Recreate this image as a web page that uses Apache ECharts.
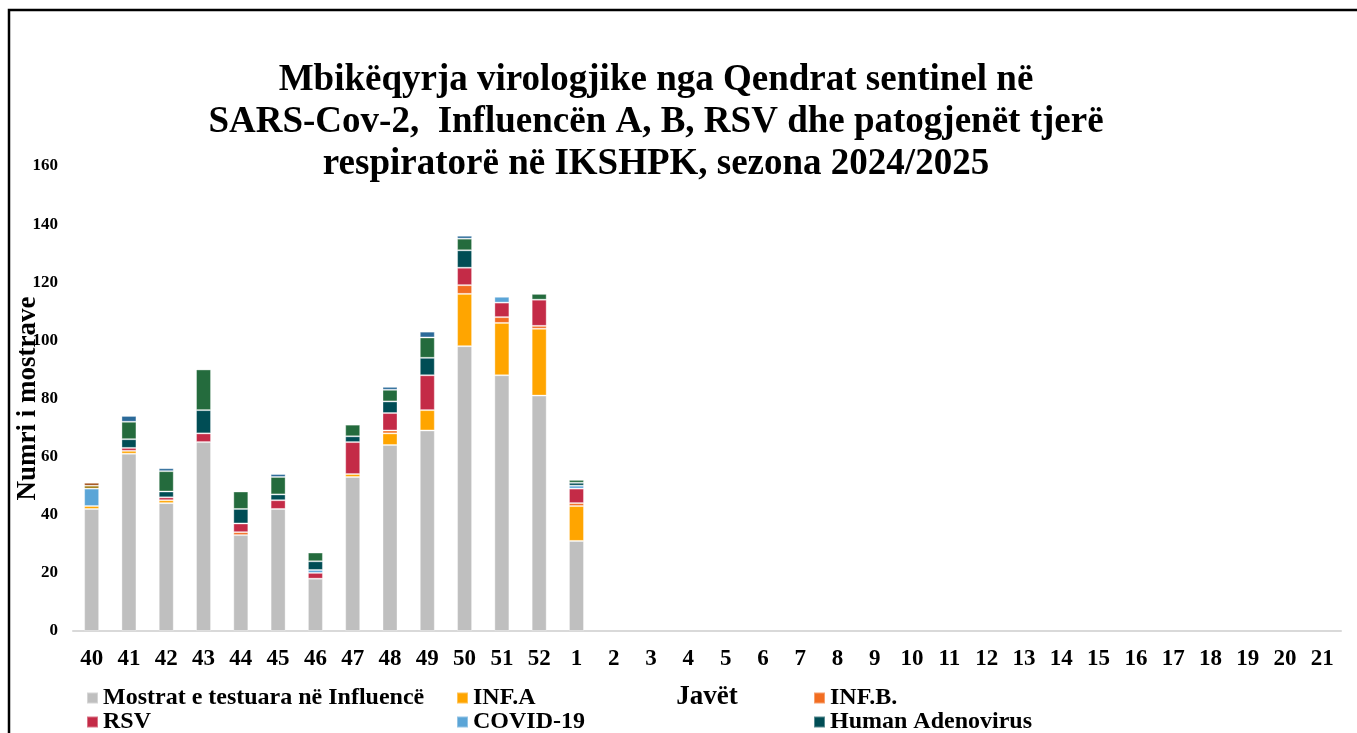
<!DOCTYPE html>
<html>
<head>
<meta charset="utf-8">
<script src="https://cdn.jsdelivr.net/npm/echarts@6/dist/echarts.min.js"></script>
<style>
html, body { margin: 0; padding: 0; background: #fff; }
#main { width: 1357px; height: 733px; }
</style>
</head>
<body>
<div id="main"></div>
<script>
var javet = ['40','41','42','43','44','45','46','47','48','49','50','51','52',
             '1','2','3','4','5','6','7','8','9','10','11','12','13','14','15','16','17','18','19','20','21'];

var mostrat = [42, 61, 44, 65, 33, 42, 18, 53, 64, 69, 98, 88, 81, 31];
var infA    = [1, 1, 1, 0, 0, 0, 0, 1, 4, 7, 18, 18, 23, 12];
var infB    = [0, 0, 0, 0, 1, 0, 0, 0, 1, 0, 3, 2, 1, 1];
var rsv     = [0, 1, 1, 3, 3, 3, 2, 11, 6, 12, 6, 5, 9, 5];
var covid   = [6, 0, 0, 0, 0, 0, 1, 0, 0, 0, 0, 2, 0, 1];
var adeno   = [0, 3, 2, 8, 5, 2, 3, 2, 4, 6, 6, 0, 0, 1];
var metapn  = [0, 6, 7, 14, 6, 6, 3, 4, 4, 7, 4, 0, 2, 1];
var rhino   = [0, 2, 1, 0, 0, 1, 0, 0, 1, 2, 1, 0, 0, 0];
var paraInf = [1, 0, 0, 0, 0, 0, 0, 0, 0, 0, 0, 0, 0, 0];
var tjere   = [1, 0, 0, 0, 0, 0, 0, 0, 0, 0, 0, 0, 0, 0];

var serif = '"Liberation Serif", "Times New Roman", serif';

function seri(name, data, color) {
    return {
        name: name,
        type: 'bar',
        stack: 'total',
        barWidth: 15,
        data: javet.map(function (w, i) {
            var v = data[i];
            return (v === undefined || v === 0) ? '-' : v;
        }),
        itemStyle: { color: color, borderColor: 'rgba(255,255,255,0.35)', borderWidth: 1 }
    };
}

// one legend per item so the columns line up like the original
function leg(name, left, top) {
    return {
        left: left, top: top, itemWidth: 11, itemHeight: 11, icon: 'rect',
        textStyle: { fontFamily: serif, fontWeight: 'bold', fontSize: 24, color: '#000', lineHeight: 24 },
        data: [name]
    };
}

var myChart = echarts.init(document.getElementById('main'));
var option = {
    backgroundColor: '#fff',
    animation: false,
    title: {
        text: 'Mbikëqyrja virologjike nga Qendrat sentinel në\nSARS-Cov-2,  Influencën A, B, RSV dhe patogjenët tjerë\nrespiratorë në IKSHPK, sezona 2024/2025',
        left: 651,
        textAlign: 'center',
        top: 54,
        textStyle: { fontFamily: serif, fontWeight: 'bold', fontSize: 37, lineHeight: 42, color: '#000' }
    },
    graphic: [{
        type: 'polyline',
        shape: { points: [[9, 733], [9, 10], [1357, 10]] },
        style: { stroke: '#000', lineWidth: 2.5, fill: null }
    }],
    legend: [
        leg('Mostrat e testuara në Influencë', 81, 681),
        leg('RSV', 81, 705),
        leg('INF.A', 451, 681),
        leg('COVID-19', 451, 705),
        leg('INF.B.', 808, 681),
        leg('Human Adenovirus', 808, 705)
    ],
    grid: { left: 73, right: 16, top: 166, bottom: 102, outerBoundsMode: 'none', containLabel: false },
    xAxis: {
        type: 'category',
        data: javet,
        name: 'Javët',
        nameLocation: 'middle',
        nameGap: 53,
        nameMoveOverlap: false,
        nameTextStyle: { fontFamily: serif, fontWeight: 'bold', fontSize: 27, color: '#000' },
        axisLine: { lineStyle: { color: '#d9d9d9', width: 2 } },
        axisTick: { show: false },
        axisLabel: { interval: 0, margin: 17, fontFamily: serif, fontWeight: 'bold', fontSize: 23, color: '#000' }
    },
    yAxis: {
        type: 'value',
        min: 0,
        max: 160,
        interval: 20,
        name: 'Numri i mostrave',
        nameLocation: 'middle',
        nameGap: 31,
        nameMoveOverlap: false,
        nameTextStyle: { fontFamily: serif, fontWeight: 'bold', fontSize: 27, color: '#000' },
        axisLine: { show: false },
        axisTick: { show: false },
        splitLine: { show: false },
        axisLabel: { margin: 15, fontFamily: serif, fontWeight: 'bold', fontSize: 17, color: '#000' }
    },
    series: [
        seri('Mostrat e testuara në Influencë', mostrat, '#bfbfbf'),
        seri('INF.A', infA, '#ffa500'),
        seri('INF.B.', infB, '#f26d21'),
        seri('RSV', rsv, '#c42b47'),
        seri('COVID-19', covid, '#5ba5d7'),
        seri('Human Adenovirus', adeno, '#004d55'),
        seri('Human Metapneumovirus', metapn, '#246b3d'),
        seri('Rhinovirus', rhino, '#2b6a99'),
        seri('Parainfluenza', paraInf, '#997300'),
        seri('Të tjerë', tjere, '#9e480e')
    ]
};
myChart.setOption(option);
</script>
</body>
</html>
